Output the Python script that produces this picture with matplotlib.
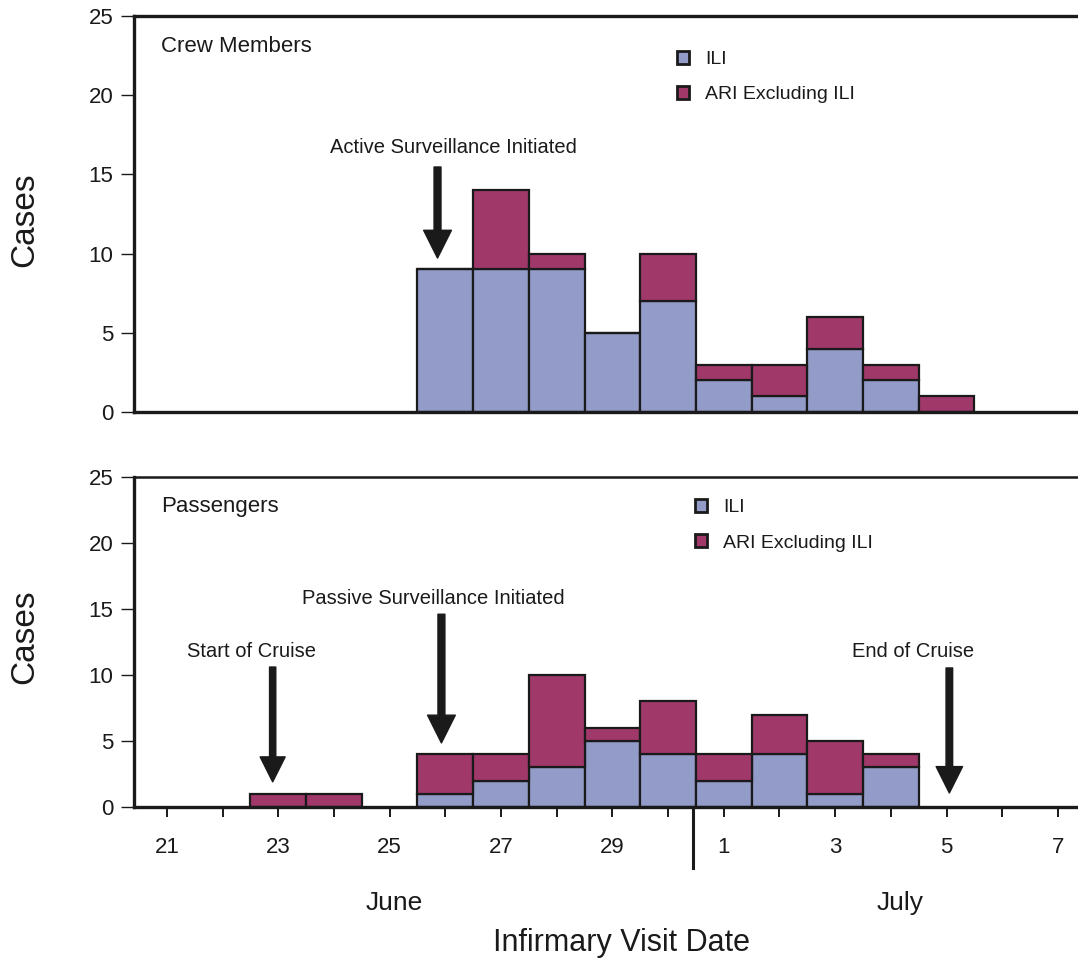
import matplotlib
matplotlib.use('Agg')
import matplotlib.pyplot as plt
import matplotlib.transforms as mtransforms
from matplotlib.patches import Patch

plt.rcParams['font.family'] = ['Liberation Sans', 'DejaVu Sans']

# day numbers counted from June 0 (31 = July 1)
crew_days = [26, 27, 28, 29, 30, 31, 32, 33, 34, 35]
crew_ili = [9, 9, 9, 5, 7, 2, 1, 4, 2, 0]
crew_ari = [0, 5, 1, 0, 3, 1, 2, 2, 1, 1]

pass_days = [23, 24, 26, 27, 28, 29, 30, 31, 32, 33, 34]
pass_ili = [0, 0, 1, 2, 3, 5, 4, 2, 4, 1, 3]
pass_ari = [1, 1, 3, 2, 7, 1, 4, 2, 3, 4, 1]

tick_days = list(range(21, 38))
tick_labels = ['21', '', '23', '', '25', '', '27', '', '29', '',
               '1', '', '3', '', '5', '', '7']
y_ticks = [0, 5, 10, 15, 20, 25]

ili_color = '#939cc8'
ari_color = '#a0386a'
edge = '#1a1a1a'
ink = '#1a1a1a'


def draw_panel(ax, days, ili, ari, title, leg_xy):
    ari_bottom = ili
    ax.bar(days, ili, width=1.0, color=ili_color, edgecolor=edge,
           linewidth=1.6, label='ILI', zorder=2)
    ax.bar(days, ari, width=1.0, bottom=ari_bottom, color=ari_color,
           edgecolor=edge, linewidth=1.6, label='ARI Excluding ILI', zorder=2)
    ax.set_xlim(20.41, 37.36)
    ax.set_ylim(0, 25)
    ax.set_yticks(y_ticks)
    ax.tick_params(axis='y', direction='out', length=9.5, width=1.0,
                   labelsize=16, pad=5.5, colors=ink)
    ax.spines['right'].set_visible(False)
    for s in ['left', 'bottom']:
        ax.spines[s].set_linewidth(2.4)
        ax.spines[s].set_color(ink)
    ax.spines['top'].set_color(ink)
    ax.text(0.0286, title[1], title[0], transform=ax.transAxes,
            fontsize=16, color=ink, ha='left', va='center')
    handles = [Patch(facecolor=ili_color, edgecolor=edge, linewidth=2.0),
               Patch(facecolor=ari_color, edgecolor=edge, linewidth=2.0)]
    ax.legend(handles, ['ILI', 'ARI Excluding ILI'], loc='upper left',
              bbox_to_anchor=leg_xy, frameon=False, fontsize=14,
              handlelength=0.65, handleheight=0.65, handletextpad=0.8,
              labelspacing=0.92, borderpad=0, borderaxespad=0,
              labelcolor=ink)


def arrow(ax, x, y0, y1, scale):
    ax.annotate('', xy=(x, y1), xytext=(x, y0),
                arrowprops=dict(arrowstyle='simple,head_length=1.0,head_width=1.0,tail_width=0.25',
                                mutation_scale=scale, fc=ink, ec=ink,
                                shrinkA=0, shrinkB=0), zorder=3)


fig = plt.figure(figsize=(10.78, 9.6), dpi=100)
ax1 = fig.add_axes([0.1243, 0.5708, 0.8757, 0.4125])
ax2 = fig.add_axes([0.1243, 0.1594, 0.8757, 0.3438])

# crew members
draw_panel(ax1, crew_days, crew_ili, crew_ari, ('Crew Members', 0.922),
           (0.575, 0.912))
ax1.spines['top'].set_linewidth(2.4)
ax1.set_xticks([])
ax1.text(26.15, 16.67, 'Active Surveillance Initiated', ha='center',
         va='center', fontsize=14.5, color=ink)
arrow(ax1, 25.86, 15.47, 9.72, 20)

# passengers
draw_panel(ax2, pass_days, pass_ili, pass_ari, ('Passengers', 0.91),
           (0.594, 0.933))
ax2.spines['top'].set_linewidth(1.8)
ax2.set_xticks(tick_days)
ax2.set_xticklabels(tick_labels)
ax2.tick_params(axis='x', direction='out', length=7, width=1.4,
                labelsize=16, pad=14.5, colors=ink)

ax2.text(22.52, 11.74, 'Start of Cruise', ha='center', va='center',
         fontsize=14.5, color=ink)
arrow(ax2, 22.9, 10.6, 1.9, 18)
ax2.text(25.79, 15.76, 'Passive Surveillance Initiated', ha='center',
         va='center', fontsize=14.5, color=ink)
arrow(ax2, 25.93, 14.6, 4.85, 20)
ax2.text(34.4, 11.74, 'End of Cruise', ha='center', va='center',
         fontsize=14.5, color=ink)
arrow(ax2, 35.05, 10.53, 1.06, 19)

# month divider and month names
trans = mtransforms.blended_transform_factory(ax2.transData, ax2.transAxes)
ax2.plot([30.45, 30.45], [0, -0.185], transform=trans, color=ink,
         lw=2.2, clip_on=False)
ax2.text(25.09, -0.291, 'June', transform=trans, ha='center', va='center',
         fontsize=19, color=ink)
ax2.text(34.17, -0.291, 'July', transform=trans, ha='center', va='center',
         fontsize=19, color=ink)

fig.text(0.5765, 0.0177, 'Infirmary Visit Date', ha='center', va='center',
         fontsize=22, color=ink)
fig.text(0.0232, 1 - 220 / 960, 'Cases', rotation=90, ha='center',
         va='center', fontsize=24, color=ink)
fig.text(0.0232, 1 - 637 / 960, 'Cases', rotation=90, ha='center',
         va='center', fontsize=24, color=ink)

fig.savefig('out.png', dpi=100)
